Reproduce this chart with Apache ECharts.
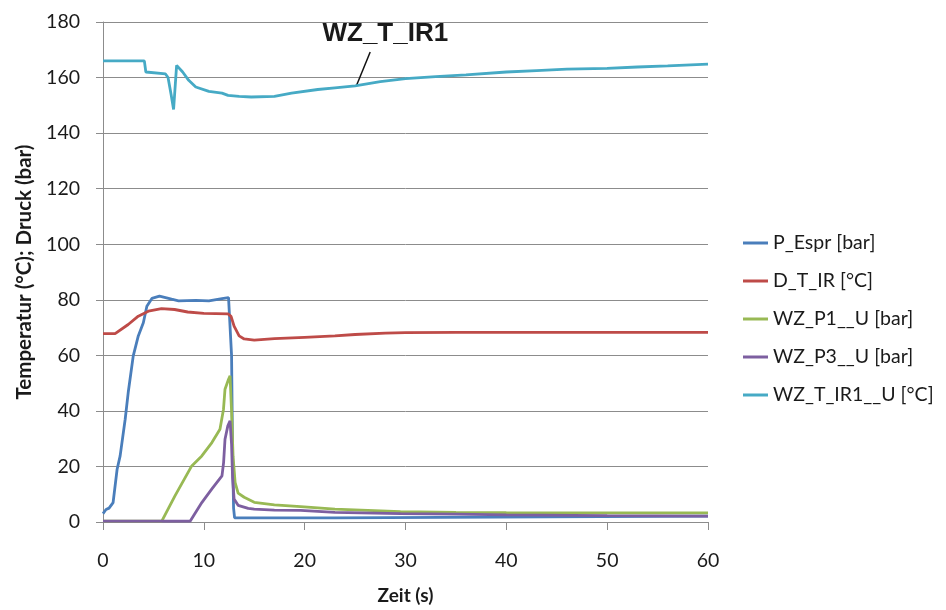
<!DOCTYPE html>
<html>
<head>
<meta charset="utf-8">
<script src="https://cdn.jsdelivr.net/npm/echarts@6/dist/echarts.min.js"></script>
<style>html,body{margin:0;padding:0;background:#fff}#c{width:946px;height:610px}</style>
</head>
<body>
<div id="c"></div>
<script>
const xTicks = [0, 10, 20, 30, 40, 50, 60];
const yTicks = [0, 20, 40, 60, 80, 100, 120, 140, 160, 180];
const seriesNames = ['P_Espr [bar]', 'D_T_IR [°C]', 'WZ_P1__U [bar]', 'WZ_P3__U [bar]', 'WZ_T_IR1__U [°C]'];

const pEsprT = [0, 0.3, 0.6, 1.0, 1.4, 1.7, 2.2, 2.5, 3.0, 3.5, 4.0, 4.35, 4.85, 5.6, 6.8, 7.5, 9.2, 10.5, 11.8, 12.45, 12.62, 12.75, 12.85, 12.95, 13.05, 23.0, 23.1, 60];
const pEsprV = [3, 4.5, 5, 7, 19, 23.8, 37, 46.6, 59.8, 67, 71.7, 77.7, 80.5, 81.3, 80.2, 79.6, 79.8, 79.6, 80.4, 80.8, 80.5, 60, 25, 5, 1.5, 1.5, 2.1, 2.1];

const dTirT = [0, 1.2, 2.5, 3.5, 4.5, 5.8, 7.1, 8.4, 10, 12.4, 12.7, 13.0, 13.5, 14.0, 15, 17, 20, 23, 25, 28, 30, 35, 40, 50, 60];
const dTirV = [67.8, 67.8, 71.1, 74.1, 75.9, 76.8, 76.5, 75.6, 75.1, 74.9, 74, 70.5, 67, 65.9, 65.5, 66, 66.5, 67, 67.5, 68, 68.2, 68.3, 68.3, 68.3, 68.3];

const wzP1T = [0, 5.83, 7.15, 8.8, 9.8, 10.8, 11.6, 11.95, 12.1, 12.45, 12.6, 12.75, 12.9, 13.1, 13.4, 14, 15, 17, 19.6, 23, 29.5, 35, 40, 50, 60];
const wzP1V = [0.3, 0.3, 9.5, 20.2, 23.8, 28.6, 33.4, 40.6, 47.8, 51.4, 52.6, 40, 23.6, 14.3, 10.4, 8.9, 7.1, 6.2, 5.5, 4.6, 3.7, 3.5, 3.4, 3.3, 3.3];

const wzP3T = [0, 8.64, 9.8, 10.8, 11.8, 11.96, 12.1, 12.38, 12.6, 12.75, 12.85, 13.0, 13.4, 14.4, 15, 17, 19.6, 23, 29.5, 35, 40, 50, 60];
const wzP3V = [0.3, 0.3, 7, 11.9, 16.6, 21.4, 29.8, 34.6, 36.4, 28, 16, 8.3, 6, 4.9, 4.6, 4.3, 4.2, 3.5, 3.0, 2.8, 2.6, 2.3, 2.1];

const wzTirT = [0, 4.1, 4.25, 6.2, 6.45, 6.75, 7.0, 7.3, 7.9, 8.5, 9.2, 10.5, 11.8, 12.4, 13.5, 14.7, 17.0, 18.7, 21.3, 23, 25, 27.5, 30, 33, 36, 40, 43, 46, 50, 53, 56, 60];
const wzTirV = [166, 166, 162, 161.3, 160, 154, 148.5, 164.4, 162, 159, 156.6, 155, 154.4, 153.6, 153.2, 153, 153.2, 154.4, 155.7, 156.3, 157, 158.5, 159.6, 160.3, 161, 162, 162.5, 163, 163.3, 163.8, 164.2, 164.8];

const annotationText = 'WZ_T_IR1';
const annotationLine = [[25.1, 156.8], [26.5, 169.2]];
const annotationPos = [28.0, 175.8];

const colors = ['#4A7EBB', '#BE4B48', '#98B954', '#7D5FA0', '#46AAC5'];
const pairs = (t, v) => t.map((x, i) => [x, v[i]]);
const dataSets = [pairs(pEsprT, pEsprV), pairs(dTirT, dTirV), pairs(wzP1T, wzP1V), pairs(wzP3T, wzP3V), pairs(wzTirT, wzTirV)];

const font = 'Lato, "Open Sans", sans-serif';
const chart = echarts.init(document.getElementById('c'), null, {renderer: 'canvas'});
const series = seriesNames.map((n, i) => ({
  name: n, type: 'line', data: dataSets[i], showSymbol: false, symbol: 'none',
  lineStyle: {width: 2.8, color: colors[i]}, itemStyle: {color: colors[i]},
  animation: false, z: 2 + i
}));
series[4].markLine = {
  silent: true, symbol: ['none', 'none'], animation: false,
  lineStyle: {color: '#111', width: 1.5, type: 'solid'}, label: {show: false},
  data: [[{coord: annotationLine[0]}, {coord: annotationLine[1]}]]
};
series[4].markPoint = {
  silent: true, animation: false, symbol: 'circle', symbolSize: 0,
  label: {show: true, position: 'inside', formatter: annotationText, color: '#1a1a1a',
    fontSize: 26, fontWeight: 'bold', fontFamily: '"Liberation Sans", Arial, sans-serif'},
  data: [{coord: annotationPos}]
};

chart.setOption({
  backgroundColor: '#fff',
  animation: false,
  color: colors,
  grid: {left: 103, right: 238, top: 22, bottom: 87, containLabel: false},
  legend: {
    orient: 'vertical', left: 738, top: 228, itemGap: 18, itemWidth: 25, itemHeight: 3,
    icon: 'rect', selectedMode: false,
    textStyle: {fontSize: 19.5, fontFamily: font, color: '#1a1a1a', lineHeight: 19}
  },
  xAxis: {
    type: 'value', min: xTicks[0], max: xTicks[xTicks.length - 1], interval: 10,
    name: 'Zeit (s)', nameLocation: 'middle', nameGap: 64,
    nameTextStyle: {fontSize: 19, fontWeight: 'bold', fontFamily: font, color: '#1a1a1a'},
    axisLine: {show: true, onZero: false, lineStyle: {color: '#8c8c8c', width: 1}},
    axisTick: {show: true, length: 8, lineStyle: {color: '#8c8c8c'}},
    axisLabel: {fontSize: 19.5, fontFamily: font, color: '#1a1a1a', margin: 29},
    splitLine: {show: false}
  },
  yAxis: {
    type: 'value', min: yTicks[0], max: yTicks[yTicks.length - 1], interval: 20,
    name: 'Temperatur (°C); Druck (bar)', nameLocation: 'middle', nameGap: 68,
    nameTextStyle: {fontSize: 20.5, fontWeight: 'bold', fontFamily: font, color: '#1a1a1a'},
    axisLine: {show: true, lineStyle: {color: '#8c8c8c', width: 1}},
    axisTick: {show: true, length: 7, lineStyle: {color: '#8c8c8c'}},
    axisLabel: {fontSize: 19.5, fontFamily: font, color: '#1a1a1a', margin: 23},
    splitLine: {show: true, lineStyle: {color: '#8c8c8c', width: 1}}
  },
  series: series
});
</script>
</body>
</html>
